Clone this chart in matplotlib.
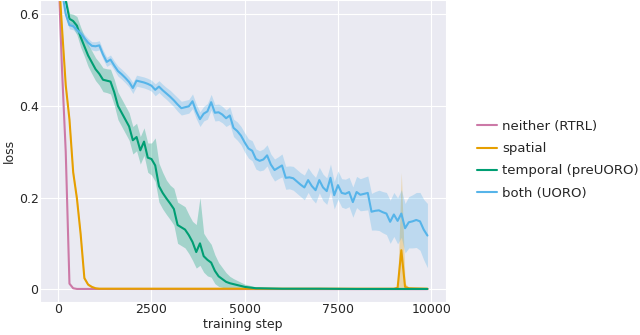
import numpy as np
import matplotlib
matplotlib.use("Agg")
import matplotlib.pyplot as plt
import seaborn as sns

sns.set_style("darkgrid")
plt.rcParams['font.family'] = ['DejaVu Sans']

# ---- data ----
blue_steps = list(range(0, 10000, 100))
blue_mean = [0.69, 0.65, 0.60, 0.576, 0.574, 0.566, 0.558, 0.548, 0.538, 0.531,
             0.530, 0.532, 0.512, 0.496, 0.501, 0.488, 0.476, 0.469, 0.461, 0.452,
             0.439, 0.455, 0.453, 0.451, 0.448, 0.444, 0.435, 0.442, 0.434, 0.427,
             0.420, 0.412, 0.403, 0.395, 0.397, 0.399, 0.410, 0.388, 0.371, 0.383,
             0.388, 0.408, 0.385, 0.386, 0.381, 0.373, 0.379, 0.352, 0.345, 0.335,
             0.320, 0.307, 0.302, 0.284, 0.280, 0.283, 0.292, 0.272, 0.260, 0.265,
             0.270, 0.243, 0.244, 0.242, 0.235, 0.228, 0.222, 0.238, 0.225, 0.216,
             0.238, 0.222, 0.214, 0.243, 0.205, 0.227, 0.210, 0.208, 0.212, 0.190,
             0.212, 0.206, 0.208, 0.210, 0.169, 0.171, 0.172, 0.168, 0.165, 0.147,
             0.163, 0.149, 0.165, 0.133, 0.146, 0.148, 0.151, 0.148, 0.130, 0.117]
blue_err = [0.008, 0.008, 0.008, 0.008, 0.008, 0.008, 0.008, 0.008, 0.009, 0.009,
            0.010, 0.010, 0.010, 0.010, 0.010, 0.010, 0.011, 0.011, 0.011, 0.011,
            0.012, 0.012, 0.012, 0.012, 0.012, 0.012, 0.013, 0.013, 0.013, 0.013,
            0.014, 0.014, 0.015, 0.015, 0.015, 0.015, 0.016, 0.016, 0.016, 0.016,
            0.017, 0.017, 0.018, 0.018, 0.018, 0.018, 0.019, 0.019, 0.020, 0.020,
            0.021, 0.021, 0.022, 0.022, 0.022, 0.023, 0.023, 0.023, 0.024, 0.024,
            0.025, 0.025, 0.025, 0.026, 0.026, 0.026, 0.027, 0.027, 0.028, 0.028,
            0.028, 0.029, 0.029, 0.030, 0.030, 0.031, 0.031, 0.032, 0.032, 0.033,
            0.034, 0.035, 0.036, 0.037, 0.040, 0.042, 0.044, 0.045, 0.046, 0.047,
            0.048, 0.050, 0.052, 0.054, 0.056, 0.058, 0.060, 0.063, 0.066, 0.070]

green_steps = list(range(0, 5500, 100)) + [6000, 7000, 8000, 9000, 9900]
green_mean = [0.70, 0.67, 0.63, 0.59, 0.585, 0.575, 0.55, 0.53, 0.51, 0.495,
              0.48, 0.47, 0.457, 0.455, 0.453, 0.43, 0.40, 0.385, 0.37, 0.355,
              0.325, 0.332, 0.303, 0.322, 0.287, 0.284, 0.27, 0.225, 0.21, 0.198,
              0.187, 0.175, 0.14, 0.135, 0.13, 0.118, 0.103, 0.081, 0.10, 0.072,
              0.064, 0.058, 0.04, 0.028, 0.022, 0.016, 0.013, 0.011, 0.009, 0.007,
              0.005, 0.004, 0.003, 0.002, 0.002,
              0.001, 0.001, 0.0005, 0.0005, 0.0005]
green_up = [0.01, 0.01, 0.01, 0.012, 0.015, 0.02, 0.022, 0.022, 0.024, 0.025,
            0.025, 0.025, 0.026, 0.026, 0.027, 0.028, 0.03, 0.03, 0.03, 0.03,
            0.03, 0.03, 0.03, 0.03, 0.032, 0.035, 0.06, 0.05, 0.045, 0.04,
            0.04, 0.045, 0.05, 0.05, 0.05, 0.045, 0.045, 0.06, 0.10, 0.05,
            0.045, 0.04, 0.035, 0.03, 0.025, 0.02, 0.015, 0.012, 0.01, 0.008,
            0.006, 0.005, 0.004, 0.003, 0.002,
            0.001, 0.001, 0.0005, 0.0005, 0.0005]
green_dn = [0.01, 0.01, 0.01, 0.012, 0.015, 0.02, 0.022, 0.022, 0.024, 0.025,
            0.025, 0.025, 0.026, 0.026, 0.027, 0.028, 0.03, 0.03, 0.03, 0.03,
            0.03, 0.03, 0.03, 0.03, 0.032, 0.035, 0.035, 0.035, 0.035, 0.035,
            0.035, 0.035, 0.04, 0.04, 0.04, 0.04, 0.04, 0.035, 0.048, 0.035,
            0.035, 0.032, 0.028, 0.022, 0.018, 0.014, 0.011, 0.009, 0.007, 0.006,
            0.004, 0.003, 0.002, 0.002, 0.001,
            0.001, 0.001, 0.0005, 0.0005, 0.0005]

orange_steps = [0, 100, 200, 300, 400, 500, 600, 700, 800, 900, 1000, 1100,
                3000, 6000, 9000, 9100, 9200, 9300, 9400, 9900]
orange_mean = [0.70, 0.57, 0.445, 0.37, 0.255, 0.198, 0.12, 0.024, 0.01, 0.005, 0.002, 0.001,
               0.001, 0.001, 0.001, 0.003, 0.085, 0.005, 0.002, 0.001]
orange_up = [0.005, 0.005, 0.005, 0.005, 0.005, 0.005, 0.005, 0.004, 0.003, 0.002, 0.001, 0.001,
             0.001, 0.001, 0.001, 0.004, 0.17, 0.008, 0.002, 0.001]
orange_dn = [0.005, 0.005, 0.005, 0.005, 0.005, 0.005, 0.005, 0.004, 0.003, 0.002, 0.001, 0.001,
             0.001, 0.001, 0.001, 0.003, 0.085, 0.005, 0.002, 0.001]

pink_steps = [0, 100, 200, 300, 400, 500, 9900]
pink_mean = [0.70, 0.48, 0.30, 0.012, 0.002, 0.0005, 0.0]

labels = ["neither (RTRL)", "spatial", "temporal (preUORO)", "both (UORO)"]
colors = ["#CC79A7", "#E69F00", "#009E73", "#56B4E9"]

fig = plt.figure(figsize=(6.4, 3.35), dpi=100)
ax = fig.add_axes([0.0625, 0.0985, 0.6345, 0.9015])

ax.plot(pink_steps, pink_mean, color=colors[0], lw=1.5, label=labels[0])

om = np.array(orange_mean)
ax.fill_between(orange_steps, om - np.array(orange_dn), om + np.array(orange_up),
                color=colors[1], alpha=0.3, lw=0)
ax.plot(orange_steps, om, color=colors[1], lw=1.5, label=labels[1])

gm = np.array(green_mean)
ax.fill_between(green_steps, gm - np.array(green_dn), gm + np.array(green_up),
                color=colors[2], alpha=0.3, lw=0)
ax.plot(green_steps, gm, color=colors[2], lw=1.5, label=labels[2])

bm = np.array(blue_mean)
be = np.array(blue_err)
ax.fill_between(blue_steps, bm - be, bm + be, color=colors[3], alpha=0.3, lw=0)
ax.plot(blue_steps, bm, color=colors[3], lw=1.5, label=labels[3])

ax.set_xlim(-490, 10400)
ax.set_ylim(-0.028, 0.631)
ax.set_xticks([0, 2500, 5000, 7500, 10000])
ax.set_yticks([0, 0.2, 0.4, 0.6])
ax.set_yticklabels(["0", "0.2", "0.4", "0.6"])
ax.tick_params(labelsize=9, pad=1, length=0)
ax.set_xlabel("training step", fontsize=9, labelpad=1)
ax.set_ylabel("loss", fontsize=9, labelpad=2)

fig.legend(loc="center left", bbox_to_anchor=(0.7266, 0.523), frameon=False,
           fontsize=9.5, handlelength=1.5, handletextpad=0.4, labelspacing=0.7)

fig.savefig("out.png", dpi=100)
